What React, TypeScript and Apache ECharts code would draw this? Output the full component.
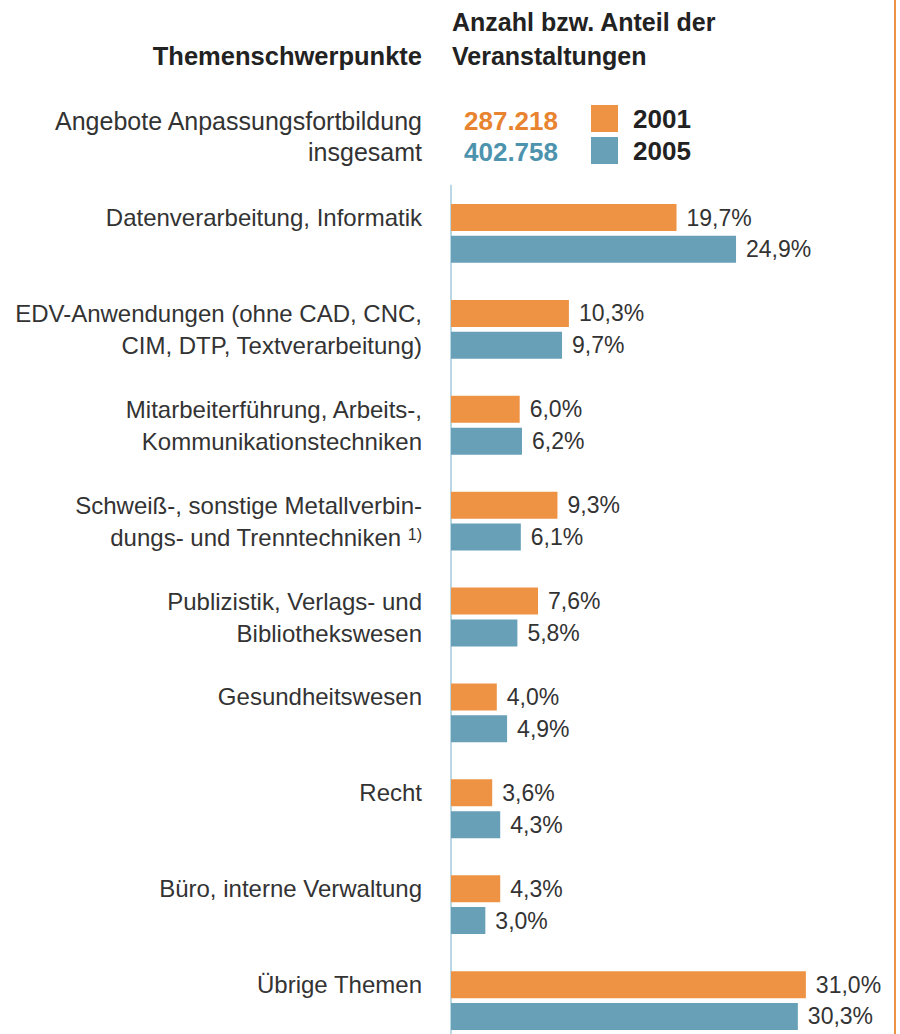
import React, { useEffect, useRef } from "react";
import * as echarts from "echarts";

const categories = [
  "Datenverarbeitung, Informatik",
  "EDV-Anwendungen (ohne CAD, CNC,\nCIM, DTP, Textverarbeitung)",
  "Mitarbeiterführung, Arbeits-,\nKommunikationstechniken",
  "Schweiß-, sonstige Metallverbin-\ndungs- und Trenntechniken 1)",
  "Publizistik, Verlags- und\nBibliothekswesen",
  "Gesundheitswesen",
  "Recht",
  "Büro, interne Verwaltung",
  "Übrige Themen",
];
const values2001 = [19.7, 10.3, 6.0, 9.3, 7.6, 4.0, 3.6, 4.3, 31.0];
const values2005 = [24.9, 9.7, 6.2, 6.1, 5.8, 4.9, 4.3, 3.0, 30.3];
const seriesNames = ["2001", "2005"];
const totals = ["287.218", "402.758"];
const totalLabel = "Angebote Anpassungsfortbildung\ninsgesamt";
const headerLeft = "Themenschwerpunkte";
const headerRight = "Anzahl bzw. Anteil der\nVeranstaltungen";

const ORANGE = "#ee9244";
const BLUE = "#68a0b8";
const ORANGE_TXT = "#e8832f";
const BLUE_TXT = "#4d93ae";
const TXT = "#333333";
const FONT = "'Liberation Sans', Arial, sans-serif";

const fmt = (v: number) => v.toFixed(1).replace(".", ",") + "%";

export default function App() {
  const ref = useRef<HTMLDivElement>(null);
  useEffect(() => {
    if (!ref.current) return;
    const chart = echarts.init(ref.current, null, { renderer: "svg" });
    const labelStyle = {
      show: true,
      position: "right" as const,
      distance: 10,
      formatter: (p: any) => fmt(p.value),
      fontSize: 23,
      fontFamily: FONT,
      color: TXT,
    };
    chart.setOption({
      animation: false,
      textStyle: { fontFamily: FONT },
      legend: {
        data: seriesNames,
        orient: "vertical",
        left: 591,
        top: 105,
        padding: 0,
        itemWidth: 27,
        itemHeight: 27,
        itemGap: 5,
        icon: "rect",
        selectedMode: false,
        textStyle: {
          fontSize: 26,
          fontWeight: "bold",
          color: "#222",
          fontFamily: FONT,
          padding: [0, 0, 0, 10],
        },
      },
      grid: {
        left: 451,
        top: 185.5,
        width: 435,
        height: 863,
        containLabel: false,
        outerBoundsMode: "none",
      },
      xAxis: {
        type: "value",
        min: 0,
        max: 38,
        show: false,
      },
      yAxis: {
        type: "category",
        inverse: true,
        data: categories,
        axisLine: { show: true, lineStyle: { color: "#b9d7e4", width: 2 } },
        axisTick: { show: false },
        splitLine: { show: false },
        axisLabel: {
          margin: 29,
          fontSize: 24,
          lineHeight: 32,
          color: TXT,
          fontFamily: FONT,
          align: "right",
          formatter: (v: string) => {
            let s = v.indexOf("\n") < 0 ? v + "\n " : v;
            s = s.replace(/ 1\)$/, " {sup|1)}");
            return s;
          },
          rich: {
            sup: {
              fontSize: 16,
              color: TXT,
              fontFamily: FONT,
              lineHeight: 32,
              padding: [0, 0, 6, 0],
            },
          },
        },
      },
      series: [
        {
          name: seriesNames[0],
          type: "bar",
          data: values2001,
          barWidth: 27,
          barGap: "18%",
          itemStyle: { color: ORANGE },
          label: labelStyle,
        },
        {
          name: seriesNames[1],
          type: "bar",
          data: values2005,
          barWidth: 27,
          barGap: "18%",
          itemStyle: { color: BLUE },
          label: labelStyle,
        },
      ],
      graphic: [
        {
          type: "line",
          shape: { x1: 895, y1: 0, x2: 895, y2: 1034 },
          style: { stroke: ORANGE, lineWidth: 2 },
        },
        {
          type: "text",
          x: 452,
          y: 39,
          style: {
            text: headerRight,
            font: `bold 25px ${FONT}`,
            fill: "#222",
            textAlign: "left",
            textVerticalAlign: "middle",
            lineHeight: 34,
          },
        },
        {
          type: "text",
          x: 422,
          y: 56,
          style: {
            text: headerLeft,
            font: `bold 25.5px ${FONT}`,
            fill: "#222",
            textAlign: "right",
            textVerticalAlign: "middle",
          },
        },
        {
          type: "text",
          x: 422,
          y: 136.5,
          style: {
            text: totalLabel,
            font: `25px ${FONT}`,
            fill: TXT,
            textAlign: "right",
            textVerticalAlign: "middle",
            lineHeight: 31,
          },
        },
        {
          type: "text",
          x: 558,
          y: 121,
          style: {
            text: totals[0],
            font: `bold 26px ${FONT}`,
            fill: ORANGE_TXT,
            textAlign: "right",
            textVerticalAlign: "middle",
          },
        },
        {
          type: "text",
          x: 558,
          y: 152,
          style: {
            text: totals[1],
            font: `bold 26px ${FONT}`,
            fill: BLUE_TXT,
            textAlign: "right",
            textVerticalAlign: "middle",
          },
        },
      ],
    });
    return () => chart.dispose();
  }, []);
  return (
    <div
      ref={ref}
      style={{ position: "fixed", left: 0, top: 0, width: 900, height: 1034, background: "#fff" }}
    />
  );
}
